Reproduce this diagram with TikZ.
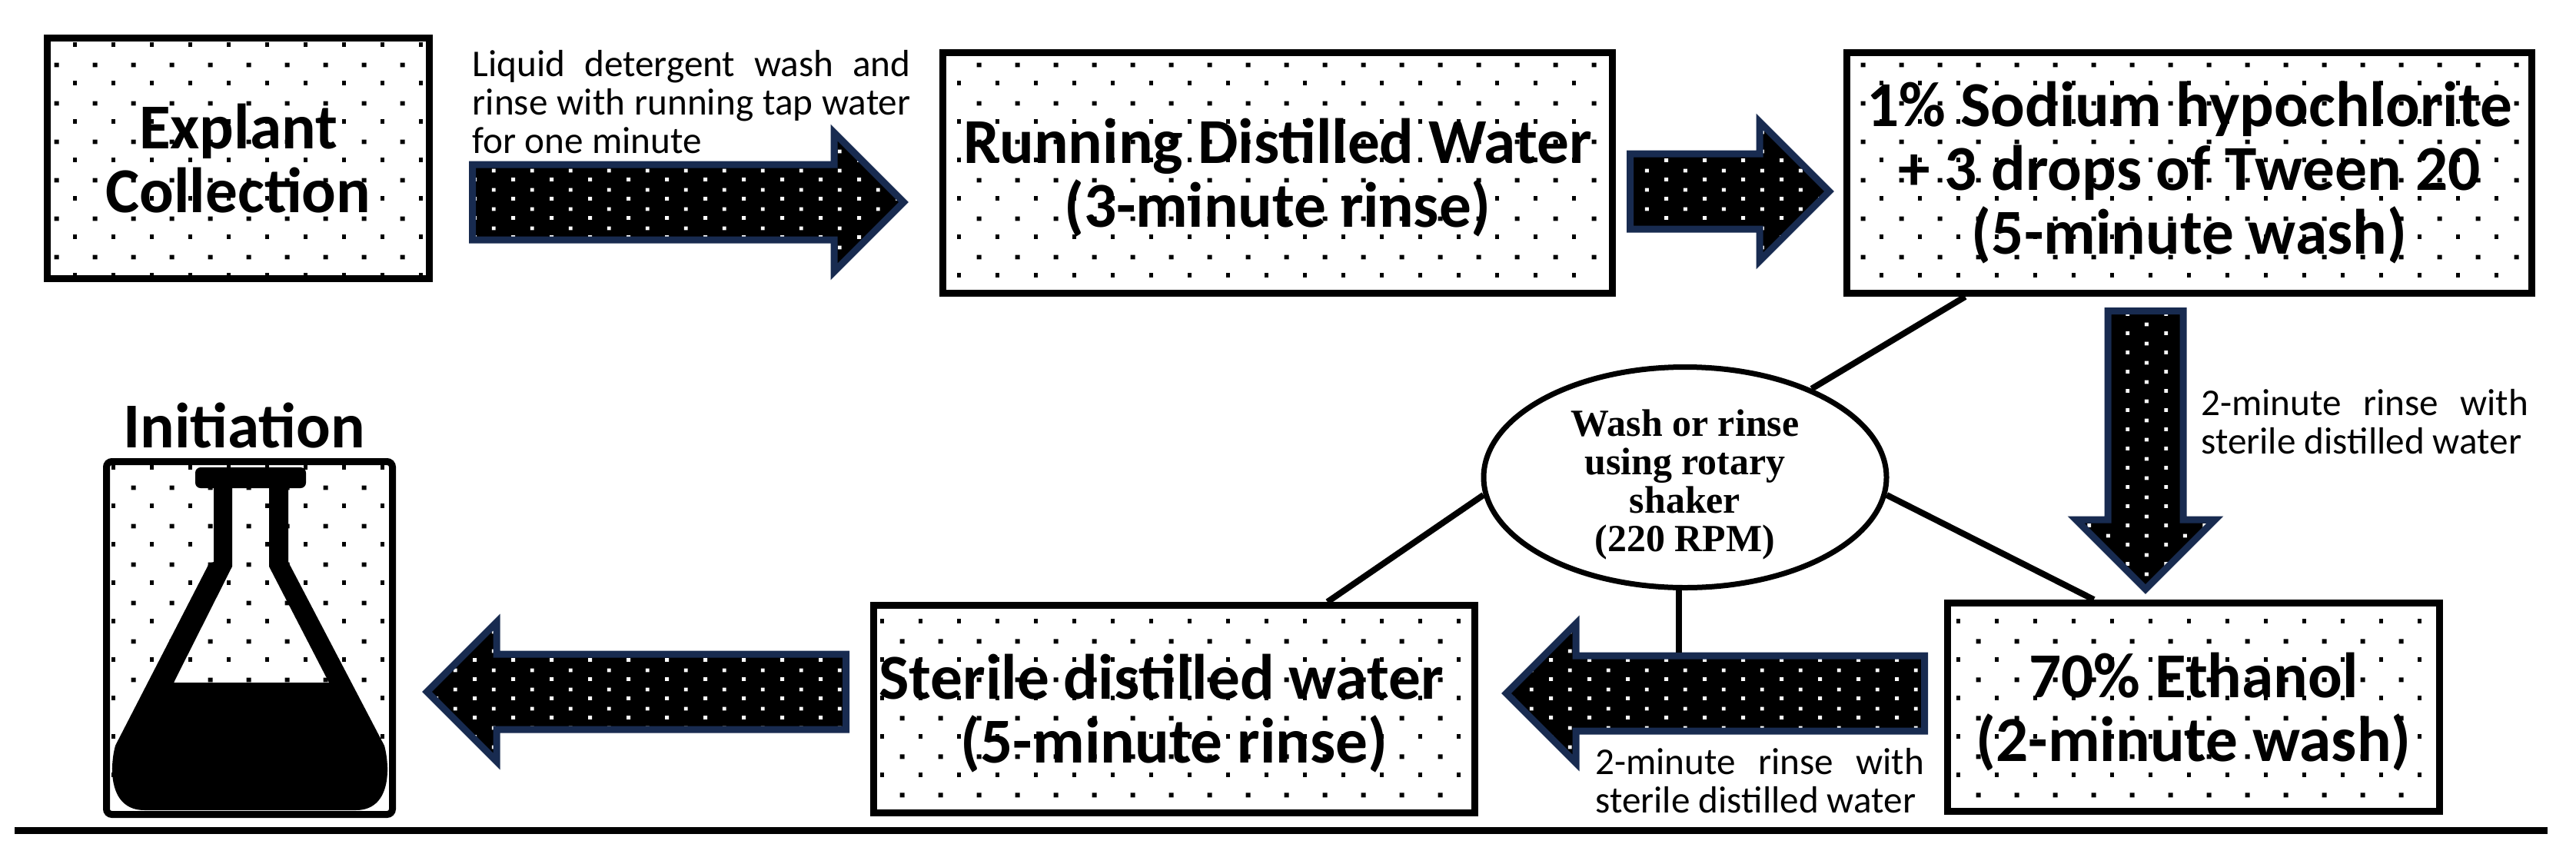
\documentclass[tikz,border=0pt]{standalone}
\usepackage{fontspec}
\setmainfont{Carlito}
\newfontfamily\shakerfont{Liberation Serif}
\usetikzlibrary{arrows.meta,positioning,calc,patterns,shapes.geometric,shapes.arrows}
\definecolor{arrownavy}{RGB}{24,43,80}
\newcommand{\lowerline}{\rule{0pt}{.70cm}}
\pgfdeclarepatternformonly{boxdots}{\pgfpointorigin}{\pgfpoint{.5cm}{.5cm}}{\pgfpoint{.5cm}{.5cm}}{
\pgfpathrectangle{\pgfpoint{.46cm}{0cm}}{\pgfpoint{.06cm}{.06cm}}
\pgfpathrectangle{\pgfpoint{.21cm}{.24cm}}{\pgfpoint{.06cm}{.06cm}}
\pgfusepath{fill}}
\pgfdeclarepatternformonly{arrowdots}{\pgfpointorigin}{\pgfpoint{.5cm}{.25cm}}{\pgfpoint{.5cm}{.25cm}}{
\pgfpathrectangle{\pgfpoint{.155cm}{0cm}}{\pgfpoint{.05cm}{.05cm}}
\pgfpathrectangle{\pgfpoint{.405cm}{.12cm}}{\pgfpoint{.05cm}{.05cm}}
\pgfusepath{fill}}
\tikzset{
stepbox/.style={draw=black, line width=.09cm, preaction={fill=white}, pattern=boxdots, pattern color=black, align=center, inner sep=0pt, font=\fontsize{23.7}{23.6}\selectfont\bfseries},
flowarrow/.style={shape=single arrow, draw=arrownavy, line width=.09cm, preaction={fill=black}, pattern=arrowdots, pattern color=white, inner xsep=0pt, inner ysep=.445cm, single arrow head extend=.415cm, anchor=tail},
shaker/.style={shape=ellipse, draw=black, line width=.07cm, fill=white, align=center, inner xsep=0pt, inner ysep=-.1cm, minimum width=5.24cm, minimum height=2.87cm, font=\shakerfont\fontsize{14.2}{14.2}\selectfont\bfseries},
note/.style={align=justify, inner sep=0pt, font=\fontsize{14}{14.2}\selectfont},
link/.style={draw=black, line width=.08cm}
}
\begin{document}
\begin{tikzpicture}
\useasboundingbox (0,0) rectangle (33.51,11.10);
\node[stepbox, minimum width=4.97cm, minimum height=3.13cm] (explant) at (3.10,9.04) {Explant\\Collection};
\node[stepbox, minimum width=8.71cm, minimum height=3.13cm, right=6.59cm of explant, yshift=-.19cm] (running) {\lowerline Running Distilled Water\\(3-minute rinse)};
\node[stepbox, minimum width=8.91cm, minimum height=3.13cm, right=2.96cm of running] (sodium) {1\% Sodium hypochlorite\\+ 3 drops of Tween 20\\(5-minute wash)};
\node[stepbox, minimum width=6.40cm, minimum height=2.71cm, below=3.94cm of sodium, xshift=.055cm] (ethanol) {\lowerline 70\% Ethanol\\(2-minute wash)};
\node[stepbox, minimum width=7.82cm, minimum height=2.70cm, left=6.06cm of ethanol, yshift=-.025cm] (sterile) {\lowerline Sterile distilled water\hspace*{.34cm}\\(5-minute rinse)};
\node[stepbox, minimum width=3.72cm, minimum height=4.59cm, rounded corners=2pt, left=6.17cm of sterile, yshift=.925cm] (flask) {};
\node[font=\fontsize{23.7}{23.6}\selectfont\bfseries, inner sep=0pt, above=.12cm of flask, xshift=-.07cm] (initiation) {Initiation};
\fill[even odd rule] (2.78,4.80) -- (2.78,3.79) -- (2.72,3.77) -- (1.50,1.40) .. controls (1.42,1.10) and (1.42,.56) .. (1.88,.56) -- (4.63,.56) .. controls (5.08,.56) and (5.08,1.10) .. (5.00,1.40) -- (3.75,3.79) -- (3.75,4.80) -- cycle
(3.02,4.80) -- (3.02,3.73) -- (2.26,2.22) -- (4.28,2.22) -- (3.50,3.73) -- (3.50,4.80) -- cycle;
\fill[rounded corners=.07cm] (2.54,5.02) rectangle (3.98,4.75);
\node[flowarrow, minimum height=5.61cm, right=.47cm of explant, anchor=tail, yshift=-.57cm] (washarrow) {};
\node[flowarrow, minimum height=2.59cm, right=.14cm of running, anchor=tail, yshift=-.24cm] (tweenarrow) {};
\node[flowarrow, minimum height=3.62cm, shape border rotate=270, inner xsep=.445cm, inner ysep=0pt, below=.14cm of sodium, anchor=tail, xshift=-.57cm] (downarrow) {};
\node[flowarrow, minimum height=5.44cm, shape border rotate=180, left=.21cm of ethanol, anchor=tail, yshift=.18cm] (rinsearrow) {};
\node[flowarrow, minimum height=5.45cm, shape border rotate=180, left=.27cm of sterile, anchor=tail, yshift=.225cm] (finalarrow) {};
\node[note, text width=5.70cm, right=.51cm of explant, yshift=.73cm] (washnote) {Liquid detergent wash and\linebreak rinse with running tap water\linebreak for one minute};
\node[note, text width=4.26cm, below left=1.20cm and .08cm of sodium.south east] (rinsenote) {2-minute rinse with\linebreak sterile distilled water};
\node[note, text width=4.28cm, left=.25cm of ethanol, yshift=-.96cm] (sterilenote) {2-minute rinse with\linebreak sterile distilled water};
\node[shaker, below=.88cm of running, xshift=5.30cm] (rotary) {\rule{0pt}{.53cm}Wash or rinse\\using rotary\\shaker\\(220 RPM)};
\draw[link] ($(sodium.south west)!.176!(sodium.south east)$) -- (rotary.35);
\draw[link] (rotary.185) -- ($(sterile.north west)!.752!(sterile.north east)$);
\draw[link] (rotary.-5) -- ($(ethanol.north west)!.30!(ethanol.north east)$);
\draw[link] (rotary.267) -- (rotary.267 |- rinsearrow.north);
\coordinate (rulestart) at (.19,.30);
\coordinate (ruleend) at (33.14,.30);
\draw[draw=black, line width=.09cm] (rulestart) -- (ruleend);
\end{tikzpicture}
\end{document}
